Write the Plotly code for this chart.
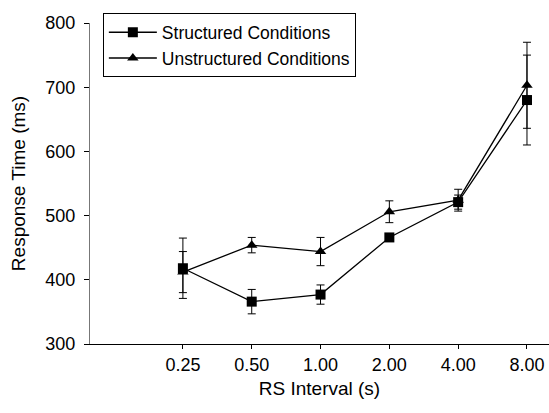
import plotly.graph_objects as go

categories = ["0.25", "0.50", "1.00", "2.00", "4.00", "8.00"]
x_pos = [0, 1, 2, 3, 4, 5]

structured = [418, 366, 377, 466, 521, 680]
structured_err = [47, 19, 15, 4, 11, 70]

unstructured = [412, 454, 444, 506, 524, 703]
unstructured_err = [32, 12, 22, 17, 17, 67]

font_family = "Liberation Sans, Arial, sans-serif"

fig = go.Figure()
fig.add_trace(go.Scatter(
    x=x_pos, y=structured, name="Structured Conditions",
    mode="lines+markers",
    line=dict(color="black", width=1.3),
    marker=dict(symbol="square", size=10, color="black"),
    error_y=dict(type="data", array=structured_err, color="black", thickness=1, width=4),
))
fig.add_trace(go.Scatter(
    x=x_pos, y=unstructured, name="Unstructured Conditions",
    mode="lines+markers",
    line=dict(color="black", width=1.3),
    marker=dict(symbol="triangle-up", size=10, color="black"),
    error_y=dict(type="data", array=unstructured_err, color="black", thickness=1, width=4),
))

fig.update_layout(
    width=549, height=413,
    margin=dict(l=90, r=0, t=23, b=69),
    paper_bgcolor="white", plot_bgcolor="white",
    font=dict(family=font_family, color="black", size=18),
    showlegend=True,
    legend=dict(
        x=0.028, y=1.03, xanchor="left", yanchor="top",
        bordercolor="black", borderwidth=1, bgcolor="white",
        font=dict(size=17.5), tracegroupgap=0, itemwidth=48,
    ),
    xaxis=dict(
        range=[-1.35, 5.32], tickvals=x_pos, ticktext=categories,
        showline=True, linecolor="black", linewidth=1,
        ticks="outside", ticklen=4, tickcolor="black",
        showgrid=False, zeroline=False,
        title=dict(text="RS Interval (s)", font=dict(size=19), standoff=8),
        tickfont=dict(size=18),
    ),
    yaxis=dict(
        range=[300, 800], tickvals=[300, 400, 500, 600, 700, 800],
        showline=True, linecolor="#777777", linewidth=1,
        ticks="outside", ticklen=5, tickcolor="black",
        ticklabelstandoff=5,
        showgrid=False, zeroline=False,
        title=dict(text="Response Time (ms)", font=dict(size=19), standoff=14),
        tickfont=dict(size=18),
    ),
)

fig.write_html("out.html")
